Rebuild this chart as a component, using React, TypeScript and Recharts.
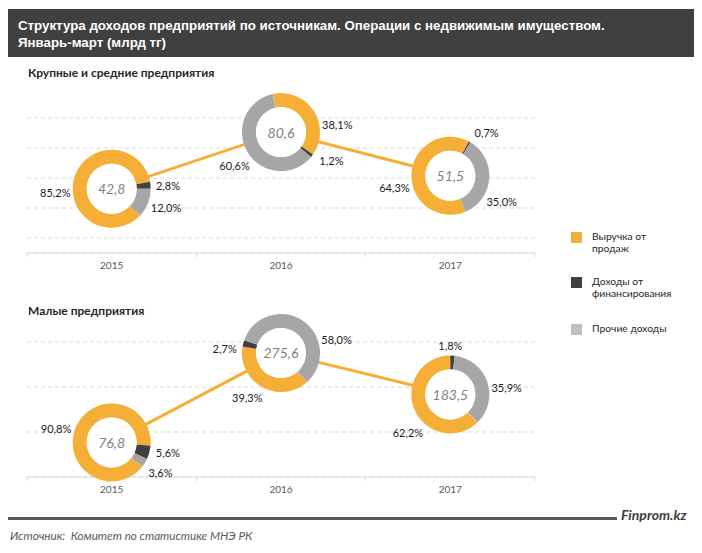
import { CartesianGrid, ComposedChart, Line, Scatter, Sector, XAxis, YAxis } from "recharts";

const YEARS = ["2015", "2016", "2017"];
const SERIES_NAMES = ["Выручка от продаж", "Доходы от финансирования", "Прочие доходы"];

// Крупные и средние предприятия
const LARGE_TOTAL = [42.8, 80.6, 51.5];
const LARGE_SALES = [85.2, 38.1, 64.3];
const LARGE_FINANCE = [2.8, 1.2, 0.7];
const LARGE_OTHER = [12.0, 60.6, 35.0];
const LARGE_TICKS = [10, 20, 30, 40, 50, 60, 70, 80, 90];

// Малые предприятия
const SMALL_TOTAL = [76.8, 275.6, 183.5];
const SMALL_SALES = [90.8, 39.3, 62.2];
const SMALL_FINANCE = [5.6, 2.7, 1.8];
const SMALL_OTHER = [3.6, 58.0, 35.9];
const SMALL_TICKS = [50, 100, 150, 200, 250, 300];

// where the first slice starts, degrees clockwise from 12 o'clock
const LARGE_ROTATION = [133, -12, 157];
const SMALL_ROTATION = [128, 138, 136];

// direction of each percent label from the donut centre (clockwise from 12 o'clock),
// placed by hand in the original, order: sales, finance, other
const LARGE_LABEL_DIR = [
  [266, 87, 109],
  [82, 119, 234],
  [258, 40, 117],
];
const SMALL_LABEL_DIR = [
  [284, 100, 122],
  [217, 275, 76],
  [228, 0, 83],
];

const COLORS = ["#F5AF36", "#404040", "#A6A6A6"];
const LEGEND_COLORS = ["#F5AF36", "#404040", "#BFBFBF"];
const FONT = "Lato, 'Noto Sans', sans-serif";

const R_OUT = 39;
const R_IN = 25;

const fmt = (v: number) => v.toFixed(1).replace(".", ",");

function buildRows(
  total: number[],
  sales: number[],
  fin: number[],
  other: number[],
  rot: number[],
  dirs: number[][]
) {
  return YEARS.map((year, i) => ({
    year,
    pos: i + 0.5,
    total: total[i],
    shares: [sales[i], fin[i], other[i]],
    start: rot[i],
    dirs: dirs[i],
  }));
}

const largeData = buildRows(LARGE_TOTAL, LARGE_SALES, LARGE_FINANCE, LARGE_OTHER, LARGE_ROTATION, LARGE_LABEL_DIR);
const smallData = buildRows(SMALL_TOTAL, SMALL_SALES, SMALL_FINANCE, SMALL_OTHER, SMALL_ROTATION, SMALL_LABEL_DIR);

function Donut(props: any) {
  const { cx, cy, payload } = props;
  if (cx == null || cy == null || !payload) return null;
  let angle = payload.start;
  const slices: any[] = [];
  const labels: any[] = [];
  payload.shares.forEach((s: number, i: number) => {
    const a0 = angle;
    const a1 = angle + s * 3.6;
    slices.push(
      <Sector
        key={"s" + i}
        cx={cx}
        cy={cy}
        innerRadius={R_IN}
        outerRadius={R_OUT}
        startAngle={90 - a0}
        endAngle={90 - a1}
        fill={COLORS[i]}
      />
    );
    const dir = (payload.dirs[i] * Math.PI) / 180;
    const dx = Math.sin(dir);
    const dy = -Math.cos(dir);
    // keep the text box just clear of the ring
    const r = R_OUT + 3 + 14 * Math.abs(dx) + 7 * Math.abs(dy);
    labels.push(
      <text
        key={"l" + i}
        x={cx + dx * r}
        y={cy + dy * r}
        textAnchor="middle"
        dominantBaseline="central"
        fontSize={11}
        fontFamily={FONT}
        fill="#1a1a1a"
      >
        {fmt(s)}%
      </text>
    );
    angle = a1;
  });
  return (
    <g>
      {slices}
      <circle cx={cx} cy={cy} r={R_IN} fill="#fff" />
      <text
        x={cx}
        y={cy}
        textAnchor="middle"
        dominantBaseline="central"
        fontSize={14}
        fontStyle="italic"
        fontFamily={FONT}
        fill="#7f7f7f"
      >
        {fmt(payload.total)}
      </text>
      {labels}
    </g>
  );
}

function YearTick(props: any) {
  const { x, y, payload } = props;
  const v = payload.value;
  if (Number.isInteger(v)) {
    return <line x1={x} y1={y} x2={x} y2={y + 4} stroke="#d9d9d9" />;
  }
  return (
    <text x={x} y={y + 12} textAnchor="middle" dominantBaseline="central" fontSize={10} fontFamily={FONT} fill="#595959">
      {YEARS[Math.floor(v)]}
    </text>
  );
}

function Panel({ data, ticks, height, top }: { data: any[]; ticks: number[]; height: number; top: number }) {
  return (
    <ComposedChart width={550} height={height} data={data} margin={{ top, right: 23, bottom: 5, left: 19 }}>
      <CartesianGrid vertical={false} stroke="#d9d9d9" strokeDasharray="4 3" />
      <XAxis
        dataKey="pos"
        type="number"
        domain={[0, 3]}
        ticks={[0, 0.5, 1, 1.5, 2, 2.5, 3]}
        interval={0}
        height={22}
        axisLine={{ stroke: "#d9d9d9" }}
        tickLine={false}
        tickSize={0}
        tickMargin={0}
        tick={<YearTick />}
      />
      <YAxis hide dataKey="total" domain={[0, ticks[ticks.length - 1]]} ticks={ticks} />
      <Line
        dataKey="total"
        stroke="#F5AF36"
        strokeWidth={3}
        dot={false}
        activeDot={false}
        isAnimationActive={false}
      />
      <Scatter dataKey="total" shape={<Donut />} isAnimationActive={false} />
    </ComposedChart>
  );
}

const abs = (left: number, top: number): any => ({ position: "absolute", left, top });

export default function App() {
  return (
    <div style={{ position: "relative", width: 686, height: 537, fontFamily: FONT }}>
      <div
        style={{
          ...abs(0, 1),
          width: 687,
          height: 48,
          boxSizing: "border-box",
          background: "#404040",
          color: "#fff",
          fontFamily: "'Liberation Sans', Arial, sans-serif",
          fontWeight: "bold",
          fontSize: 13.3,
          lineHeight: "17px",
          padding: "8px 0 0 10px",
        }}
      >
        Структура доходов предприятий по источникам. Операции с недвижимым имуществом.
        <br />
        Январь-март (млрд тг)
      </div>

      <div style={{ ...abs(20, 58), fontSize: 12, fontWeight: "bold", color: "#262626", lineHeight: "14px" }}>
        Крупные и средние предприятия
      </div>
      <div style={abs(0, 52)}>
        <Panel data={largeData} ticks={LARGE_TICKS} height={220} top={58} />
      </div>

      <div style={{ ...abs(20, 296), fontSize: 12, fontWeight: "bold", color: "#262626", lineHeight: "14px" }}>
        Малые предприятия
      </div>
      <div style={abs(0, 282)}>
        <Panel data={smallData} ticks={SMALL_TICKS} height={214} top={52} />
      </div>

      {[
        { top: 224, text: ["Выручка от", "продаж"] },
        { top: 269, text: ["Доходы от", "финансирования"] },
        { top: 316, text: ["Прочие доходы"] },
      ].map((item, i) => (
        <div key={SERIES_NAMES[i]} title={SERIES_NAMES[i]}>
          <div style={{ ...abs(563, item.top), width: 11, height: 11, background: LEGEND_COLORS[i] }} />
          <div style={{ ...abs(584, item.top - 2), fontSize: 10.3, lineHeight: "12px", color: "#262626" }}>
            {item.text.map((t) => (
              <div key={t}>{t}</div>
            ))}
          </div>
        </div>
      ))}

      <div style={{ ...abs(0, 509), width: 609, height: 3, background: "#595959" }} />
      <div
        style={{
          ...abs(613, 498),
          fontSize: 14,
          fontWeight: "bold",
          fontStyle: "italic",
          color: "#404040",
          lineHeight: "18px",
        }}
      >
        Finprom.kz
      </div>
      <div
        style={{
          ...abs(2, 520),
          fontSize: 11.7,
          fontStyle: "italic",
          color: "#595959",
          lineHeight: "14px",
          whiteSpace: "pre",
        }}
      >
        Источник:  Комитет по статистике МНЭ РК
      </div>
    </div>
  );
}
